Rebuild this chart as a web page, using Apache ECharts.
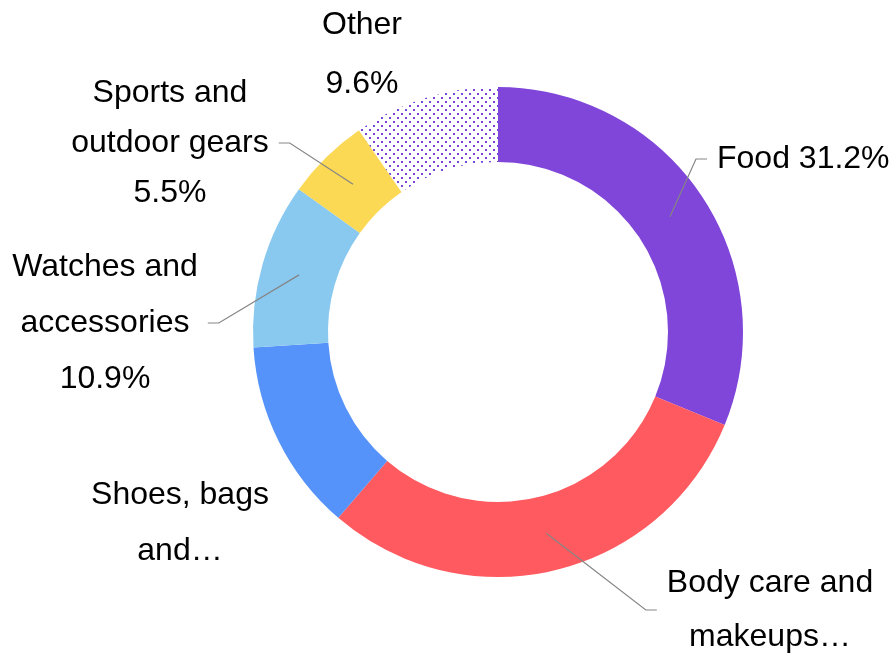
<!DOCTYPE html>
<html>
<head>
<meta charset="utf-8">
<script src="https://cdn.jsdelivr.net/npm/echarts@6/dist/echarts.min.js"></script>
<style>
  html, body { margin: 0; padding: 0; background: #fff; }
  #chart { width: 892px; height: 656px; }
</style>
</head>
<body>
<div id="chart"></div>
<script>
// share of sales by category (%)
const categories = ['Food', 'Body care and makeups', 'Shoes, bags and accessories', 'Watches and accessories', 'Sports and outdoor gears', 'Other']
const shares = [31.2, 30.1, 12.7, 10.9, 5.5, 9.6]
// label text as printed on the chart
const labelTexts = ['Food 31.2%', 'Body care and\nmakeups…', 'Shoes, bags\nand…', 'Watches and\naccessories\n10.9%', 'Sports and\noutdoor gears\n5.5%', 'Other\n9.6%']

// dotted fill for "Other"
function dotPattern() {
  const c = document.createElement('canvas')
  c.width = 8
  c.height = 8
  const ctx = c.getContext('2d')
  ctx.fillStyle = '#ffffff'
  ctx.fillRect(0, 0, 8, 8)
  ctx.fillStyle = '#7b45d9'
  ctx.fillRect(1, 1, 2, 2)
  ctx.fillRect(5, 5, 2, 2)
  return c
}

const colors = ['#8045d9', '#ff5a5f', '#5592fa', '#89c9f0', '#fbd955', { image: dotPattern(), repeat: 'repeat' }]
// label placement: [x, y, align, lineHeight, showLine]
const spots = [
  [707, 159, 'left', 54, true],
  [770, 610, 'center', 54, true],
  [180, 523, 'center', 56, false],
  [105, 323, 'center', 56, true],
  [170, 143, 'center', 50, true],
  [362, 55, 'center', 59, false],
]

const chart = echarts.init(document.getElementById('chart'), null, { renderer: 'canvas' })

const data = categories.map((name, i) => ({ name, value: shares[i] }))

chart.setOption({
  backgroundColor: '#ffffff',
  animation: false,
  series: [
    {
      // the ring itself
      type: 'pie',
      center: [498, 332],
      radius: [170, 245],
      startAngle: 90,
      clockwise: true,
      silent: true,
      data: data.map((d, i) => ({ ...d, itemStyle: { color: colors[i] } })),
      label: { show: false },
      labelLine: { show: false },
    },
    {
      // invisible copy, reaching to mid-ring, that carries the labels so leader lines start inside the ring
      type: 'pie',
      z: 5,
      center: [498, 332],
      radius: [0, 207],
      startAngle: 90,
      clockwise: true,
      silent: true,
      avoidLabelOverlap: false,
      itemStyle: { color: 'rgba(0,0,0,0)' },
      data: data.map((d, i) => ({
        ...d,
        label: { lineHeight: spots[i][3] },
        labelLine: { show: spots[i][4] },
      })),
      label: {
        show: true,
        position: 'outside',
        formatter: (p) => labelTexts[p.dataIndex],
        color: '#000000',
        fontFamily: 'Liberation Sans, Arial, sans-serif',
        fontSize: 32,
        padding: [0, 10],
      },
      labelLine: {
        show: true,
        length: 10,
        length2: 11,
        lineStyle: { color: '#858585', width: 1.2 },
      },
      labelLayout: (p) => {
        const s = spots[p.dataIndex]
        return { x: s[0], y: s[1], align: s[2], verticalAlign: 'middle' }
      },
    },
  ],
})
</script>
</body>
</html>
